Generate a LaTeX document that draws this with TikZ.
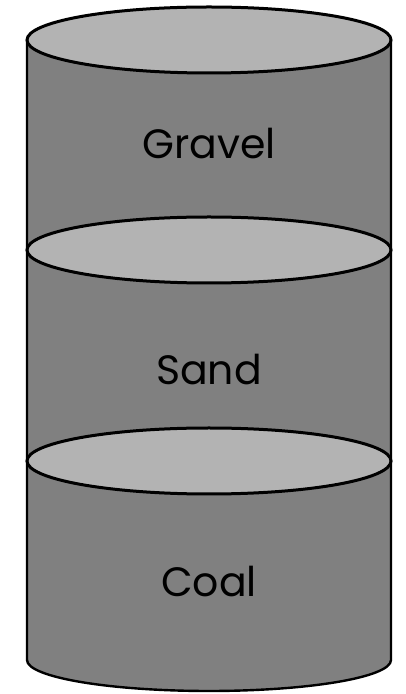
\documentclass[tikz,border=0pt]{standalone}
\usepackage{fontspec}
\setmainfont{Poppins}
\begin{document}
\begin{tikzpicture}[x=1pt,y=1pt,
  body/.style={fill=bodygray,draw=black,line width=2.4pt,line join=round},
  lid/.style={fill=lidgray,draw=black,line width=3pt},
  lbl/.style={font=\fontsize{41}{44}\selectfont,text=black,inner sep=0pt,anchor=base}]
\definecolor{bodygray}{RGB}{128,128,128}
\definecolor{lidgray}{RGB}{179,179,179}
\useasboundingbox (0,0) rectangle (406,694);
% cylinder 1 (Gravel)
\draw[body] (27,654) -- (27,444) arc[start angle=180,end angle=360,x radius=182,y radius=33] -- (391,654) -- cycle;
\draw[lid] (209,654) ellipse[x radius=182,y radius=33];
\node[lbl] (gravel) at (209,535) {Gravel};
% cylinder 2 (Sand)
\draw[body] (27,444) -- (27,233) arc[start angle=180,end angle=360,x radius=182,y radius=33] -- (391,444) -- cycle;
\draw[lid] (209,444) ellipse[x radius=182,y radius=33];
\node[lbl] (sand) at (209,309) {Sand};
% cylinder 3 (Coal)
\draw[body] (27,233) -- (27,34) arc[start angle=180,end angle=360,x radius=182,y radius=31] -- (391,233) -- cycle;
\draw[lid] (209,233) ellipse[x radius=182,y radius=33];
\node[lbl] (coal) at (209,97) {Coal};
\end{tikzpicture}
\end{document}
